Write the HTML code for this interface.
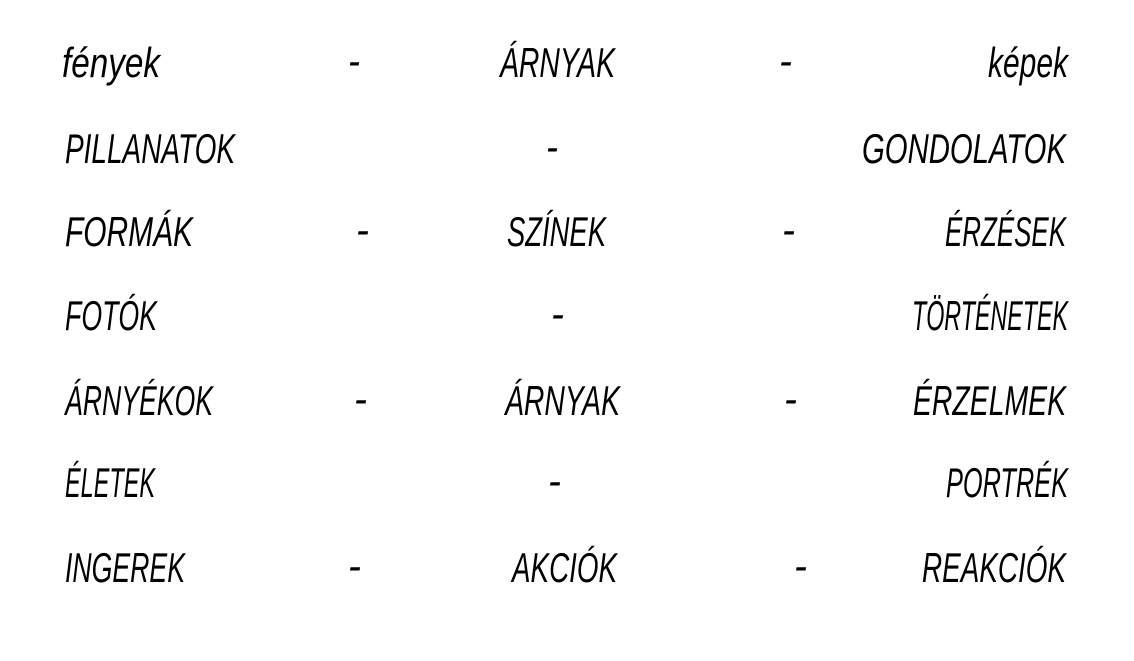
<!DOCTYPE html>
<html><head><meta charset="utf-8"><style>
html,body{margin:0;padding:0;background:#fff;width:1134px;height:661px;overflow:hidden}
svg text{font-family:"Liberation Sans",sans-serif;font-style:italic;font-size:42px;fill:#000}
</style></head><body>
<svg width="1134" height="661" xmlns="http://www.w3.org/2000/svg">
<g>
<text x="62" y="77" textLength="98" lengthAdjust="spacingAndGlyphs">fények</text>
<text x="348" y="75" textLength="12" lengthAdjust="spacingAndGlyphs">-</text>
<text x="500" y="77" textLength="115" lengthAdjust="spacingAndGlyphs">ÁRNYAK</text>
<text x="779" y="75" textLength="13" lengthAdjust="spacingAndGlyphs">-</text>
<text x="988" y="77" textLength="80" lengthAdjust="spacingAndGlyphs">képek</text>

<text x="65" y="163" textLength="170" lengthAdjust="spacingAndGlyphs">PILLANATOK</text>
<text x="546" y="161" textLength="12" lengthAdjust="spacingAndGlyphs">-</text>
<text x="862" y="163" textLength="204" lengthAdjust="spacingAndGlyphs">GONDOLATOK</text>

<text x="65" y="246" textLength="128" lengthAdjust="spacingAndGlyphs">FORMÁK</text>
<text x="356" y="244" textLength="13" lengthAdjust="spacingAndGlyphs">-</text>
<text x="507" y="246" textLength="99" lengthAdjust="spacingAndGlyphs">SZÍNEK</text>
<text x="782" y="244" textLength="13" lengthAdjust="spacingAndGlyphs">-</text>
<text x="945" y="246" textLength="121" lengthAdjust="spacingAndGlyphs">ÉRZÉSEK</text>

<text x="65" y="330" textLength="92" lengthAdjust="spacingAndGlyphs">FOTÓK</text>
<text x="551" y="328" textLength="13" lengthAdjust="spacingAndGlyphs">-</text>
<text x="912" y="330" textLength="156" lengthAdjust="spacingAndGlyphs">TÖRTÉNETEK</text>

<text x="65" y="415" textLength="148" lengthAdjust="spacingAndGlyphs">ÁRNYÉKOK</text>
<text x="354" y="413" textLength="13" lengthAdjust="spacingAndGlyphs">-</text>
<text x="505" y="415" textLength="115" lengthAdjust="spacingAndGlyphs">ÁRNYAK</text>
<text x="784" y="413" textLength="13" lengthAdjust="spacingAndGlyphs">-</text>
<text x="913" y="415" textLength="153" lengthAdjust="spacingAndGlyphs">ÉRZELMEK</text>

<text x="65" y="497" textLength="90" lengthAdjust="spacingAndGlyphs">ÉLETEK</text>
<text x="548" y="495" textLength="13" lengthAdjust="spacingAndGlyphs">-</text>
<text x="946" y="497" textLength="122" lengthAdjust="spacingAndGlyphs">PORTRÉK</text>

<text x="65" y="582" textLength="120" lengthAdjust="spacingAndGlyphs">INGEREK</text>
<text x="348" y="580" textLength="13" lengthAdjust="spacingAndGlyphs">-</text>
<text x="512" y="582" textLength="105" lengthAdjust="spacingAndGlyphs">AKCIÓK</text>
<text x="794" y="580" textLength="13" lengthAdjust="spacingAndGlyphs">-</text>
<text x="922" y="582" textLength="144" lengthAdjust="spacingAndGlyphs">REAKCIÓK</text>
</g>
</svg>
</body></html>
